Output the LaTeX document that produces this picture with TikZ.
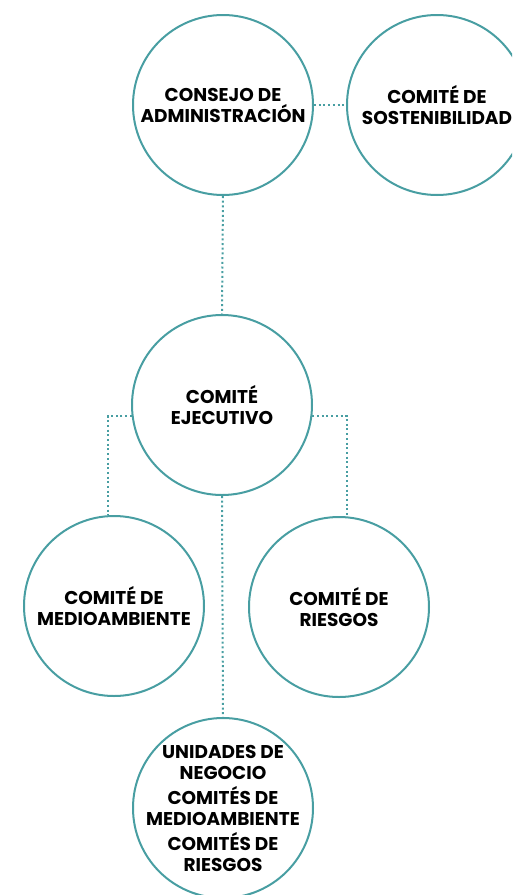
\documentclass[tikz,border=0pt]{standalone}
\usepackage{fontspec}
\setmainfont{Poppins}
\usetikzlibrary{positioning}
\definecolor{govteal}{RGB}{72,158,162}

\begin{document}
\begin{tikzpicture}[x=1pt,y=-1pt,
  organo/.style={circle, draw=govteal, line width=2pt, minimum size=180pt, inner sep=0pt, align=center, font=\bfseries\fontsize{18.5}{21}\selectfont},
  enlace/.style={govteal, line width=2pt, dash pattern=on 2pt off 2.7pt}]
  \clip (0,0) rectangle (512,895);
  \node[organo] (consejo) at (223,105) {CONSEJO DE\\ADMINISTRACIÓN};
  \node[organo] (sosten) at (437,105) {COMITÉ DE\\SOSTENIBILIDAD};
  \node[organo] (ejecutivo) at (222,405) {COMITÉ\\EJECUTIVO};
  \node[organo] (medio) at (114,606) {COMITÉ DE\\MEDIOAMBIENTE};
  \node[organo] (riesgos) at (339,607) {COMITÉ DE\\RIESGOS};
  \node[organo, inner sep=-15pt] (unidades) at (223,808) {UNIDADES DE\\NEGOCIO\\[4pt]COMITÉS DE\\MEDIOAMBIENTE\\[4pt]COMITÉS DE\\RIESGOS};
  % enlaces
  \draw[enlace] (consejo.east) -- (sosten.west);
  \draw[enlace] (consejo.south) -- (ejecutivo.north);
  \draw[enlace] (ejecutivo.187) -| (medio.94);
  \draw[enlace] (ejecutivo.-7) -| (riesgos.85);
  \draw[enlace] (ejecutivo.south) -- (unidades.north);
\end{tikzpicture}
\end{document}
